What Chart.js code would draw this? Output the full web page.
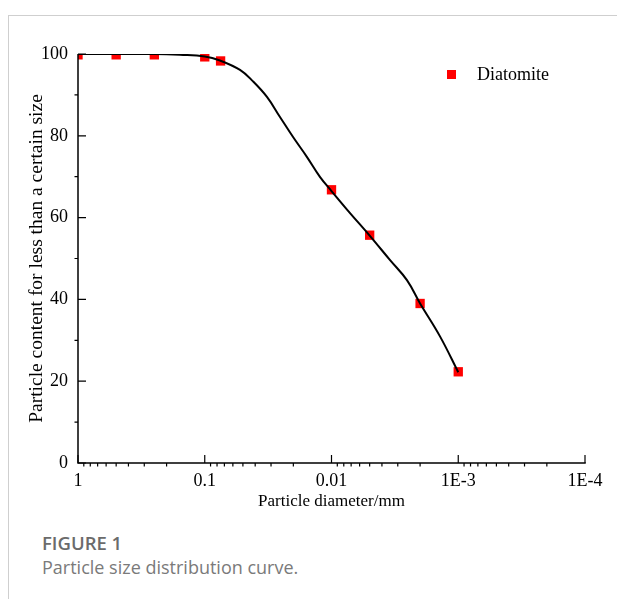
<!DOCTYPE html>
<html>
  <head>
    <title>Particle size distribution curve</title>
    <style>
      body { margin: 0; background: #fff; width: 617px; height: 599px; position: relative; overflow: hidden; }
      #frame { position: absolute; left: 8px; top: 15px; width: 609px; height: 590px; border-top: 1px solid #cfcfcf; border-left: 1px solid #cfcfcf; }
      #wrap { position: absolute; left: 0; top: 0; width: 617px; height: 520px; }
      .cap { position: absolute; left: 42px; font-family: "Open Sans", sans-serif; color: #6b6b6b; white-space: nowrap; }
      #capTitle { top: 530px; font-size: 18.5px; font-weight: 600; }
      #capText { top: 555px; font-size: 18px; color: #7a7a7a; }
    </style>
  </head>
  <body>

    <script src="https://cdn.jsdelivr.net/npm/chart.js@4.4.0/dist/chart.umd.min.js"></script>

    <div id="frame"></div>

    <!-- The canvas -->
    <div id="wrap"><canvas id="psdChart"></canvas></div>

    <!-- The caption -->
    <div class="cap" id="capTitle">FIGURE 1</div>
    <div class="cap" id="capText">Particle size distribution curve.</div>

    <script>

      // Measured points (particle diameter in mm, % passing)
      const sizes = [1, 0.5, 0.25, 0.1, 0.075, 0.01, 0.005, 0.002, 0.001];
      const passing = [99.8, 99.8, 99.8, 99.3, 98.3, 66.8, 55.7, 39.0, 22.3];

      // Fitted curve
      const curveSizes = [1, 0.5, 0.25, 0.157, 0.1, 0.0758, 0.0527, 0.0416, 0.0323, 0.0255, 0.0201, 0.0156, 0.0123, 0.01, 0.00714, 0.005, 0.00345, 0.00254, 0.002, 0.00139, 0.001];
      const curvePassing = [100, 100, 100, 99.8, 99.4, 98.4, 96.1, 93.3, 89.5, 84.6, 79.7, 74.8, 69.9, 66.5, 61.1, 55.6, 49.6, 44.7, 39.0, 30.9, 22.2];

      // Axis ticks
      const xTickValues = [1, 0.1, 0.01, 0.001, 0.0001];
      const xTickLabels = ["1", "0.1", "0.01", "1E-3", "1E-4"];
      const yTickValues = [0, 20, 40, 60, 80, 100];

      const serif = "'Liberation Serif', 'Times New Roman', serif";

      // Axis lines, Origin style ticks (major inside, minor outside) and the legend
      const axesPlugin = {
        id: "axesPlugin",
        afterDatasetsDraw(chart) {
          const { ctx, chartArea: a, scales: { x, y } } = chart;
          ctx.save();
          ctx.strokeStyle = "#000";
          ctx.lineWidth = 1.5;
          ctx.beginPath();
          ctx.moveTo(a.left, a.top);
          ctx.lineTo(a.left, a.bottom);
          ctx.lineTo(a.right + 0.75, a.bottom);
          ctx.stroke();

          ctx.lineWidth = 1.2;
          ctx.beginPath();
          // x ticks
          for (const v of xTickValues) {
            const px = x.getPixelForValue(v);
            ctx.moveTo(px, a.bottom);
            ctx.lineTo(px, a.bottom - 8);
          }
          for (let d = 0; d < 4; d++) {
            for (let m = 2; m <= 9; m++) {
              const px = x.getPixelForValue(m * Math.pow(10, -d - 1));
              ctx.moveTo(px, a.bottom);
              ctx.lineTo(px, a.bottom + 3.5);
            }
          }
          // y ticks
          for (const v of yTickValues) {
            const py = y.getPixelForValue(v);
            ctx.moveTo(a.left, py);
            ctx.lineTo(a.left + 8, py);
          }
          for (let v = 10; v < 100; v += 20) {
            const py = y.getPixelForValue(v);
            ctx.moveTo(a.left, py);
            ctx.lineTo(a.left - 3.5, py);
          }
          ctx.stroke();

          // legend
          const ds = chart.data.datasets[1];
          ctx.fillStyle = ds.backgroundColor;
          ctx.fillRect(447, 70, 9, 9);
          ctx.fillStyle = "#000";
          ctx.font = "18px " + serif;
          ctx.textBaseline = "middle";
          ctx.fillText(ds.label, 477, 75);
          ctx.restore();
        }
      };

      const ctx = document.getElementById("psdChart").getContext("2d");

      const chart = new Chart(ctx, {
        type: "scatter",
        data: {
          datasets: [
            {
              type: "line",
              label: "Fit",
              data: curveSizes.map((s, i) => ({ x: s, y: curvePassing[i] })),
              borderColor: "#000",
              borderWidth: 2,
              pointRadius: 0,
              tension: 0.4,
              fill: false,
              order: 0
            },
            {
              label: "Diatomite",
              data: sizes.map((s, i) => ({ x: s, y: passing[i] })),
              backgroundColor: "#ff0000",
              borderWidth: 0,
              pointStyle: "rect",
              pointRadius: 6.6,
              clip: 0,
              order: 1
            }
          ]
        },
        options: {
          responsive: true,
          maintainAspectRatio: false,
          animation: false,
          layout: { padding: { left: 0, top: 54, right: 32, bottom: 0 } },
          plugins: {
            legend: { display: false },
            tooltip: { enabled: false }
          },
          scales: {
            x: {
              type: "logarithmic",
              min: 0.0001,
              max: 1,
              reverse: true,
              grid: { display: false, drawTicks: false },
              border: { display: false },
              afterBuildTicks(scale) {
                scale.ticks = xTickValues.map(v => ({ value: v }));
              },
              afterFit(scale) { scale.height = 57; },
              ticks: {
                autoSkip: false,
                maxRotation: 0,
                padding: 7,
                color: "#000",
                font: { family: serif, size: 18 },
                callback(value) {
                  const i = xTickValues.findIndex(v => Math.abs(v - value) / v < 1e-6);
                  return i >= 0 ? xTickLabels[i] : "";
                }
              },
              title: {
                display: true,
                text: "Particle diameter/mm",
                color: "#000",
                font: { family: serif, size: 17 },
                padding: { top: 0, bottom: 8 }
              }
            },
            y: {
              min: 0,
              max: 100,
              grid: { display: false, drawTicks: false },
              border: { display: false },
              afterFit(scale) { scale.width = 78; },
              ticks: {
                stepSize: 20,
                padding: 10,
                color: "#000",
                font: { family: serif, size: 18 }
              },
              title: {
                display: true,
                text: "Particle content for less than a certain size",
                color: "#000",
                font: { family: serif, size: 19.5 },
                padding: { top: 25, bottom: 0 }
              }
            }
          }
        },
        plugins: [axesPlugin]
      });

    </script>
  </body>
</html>
